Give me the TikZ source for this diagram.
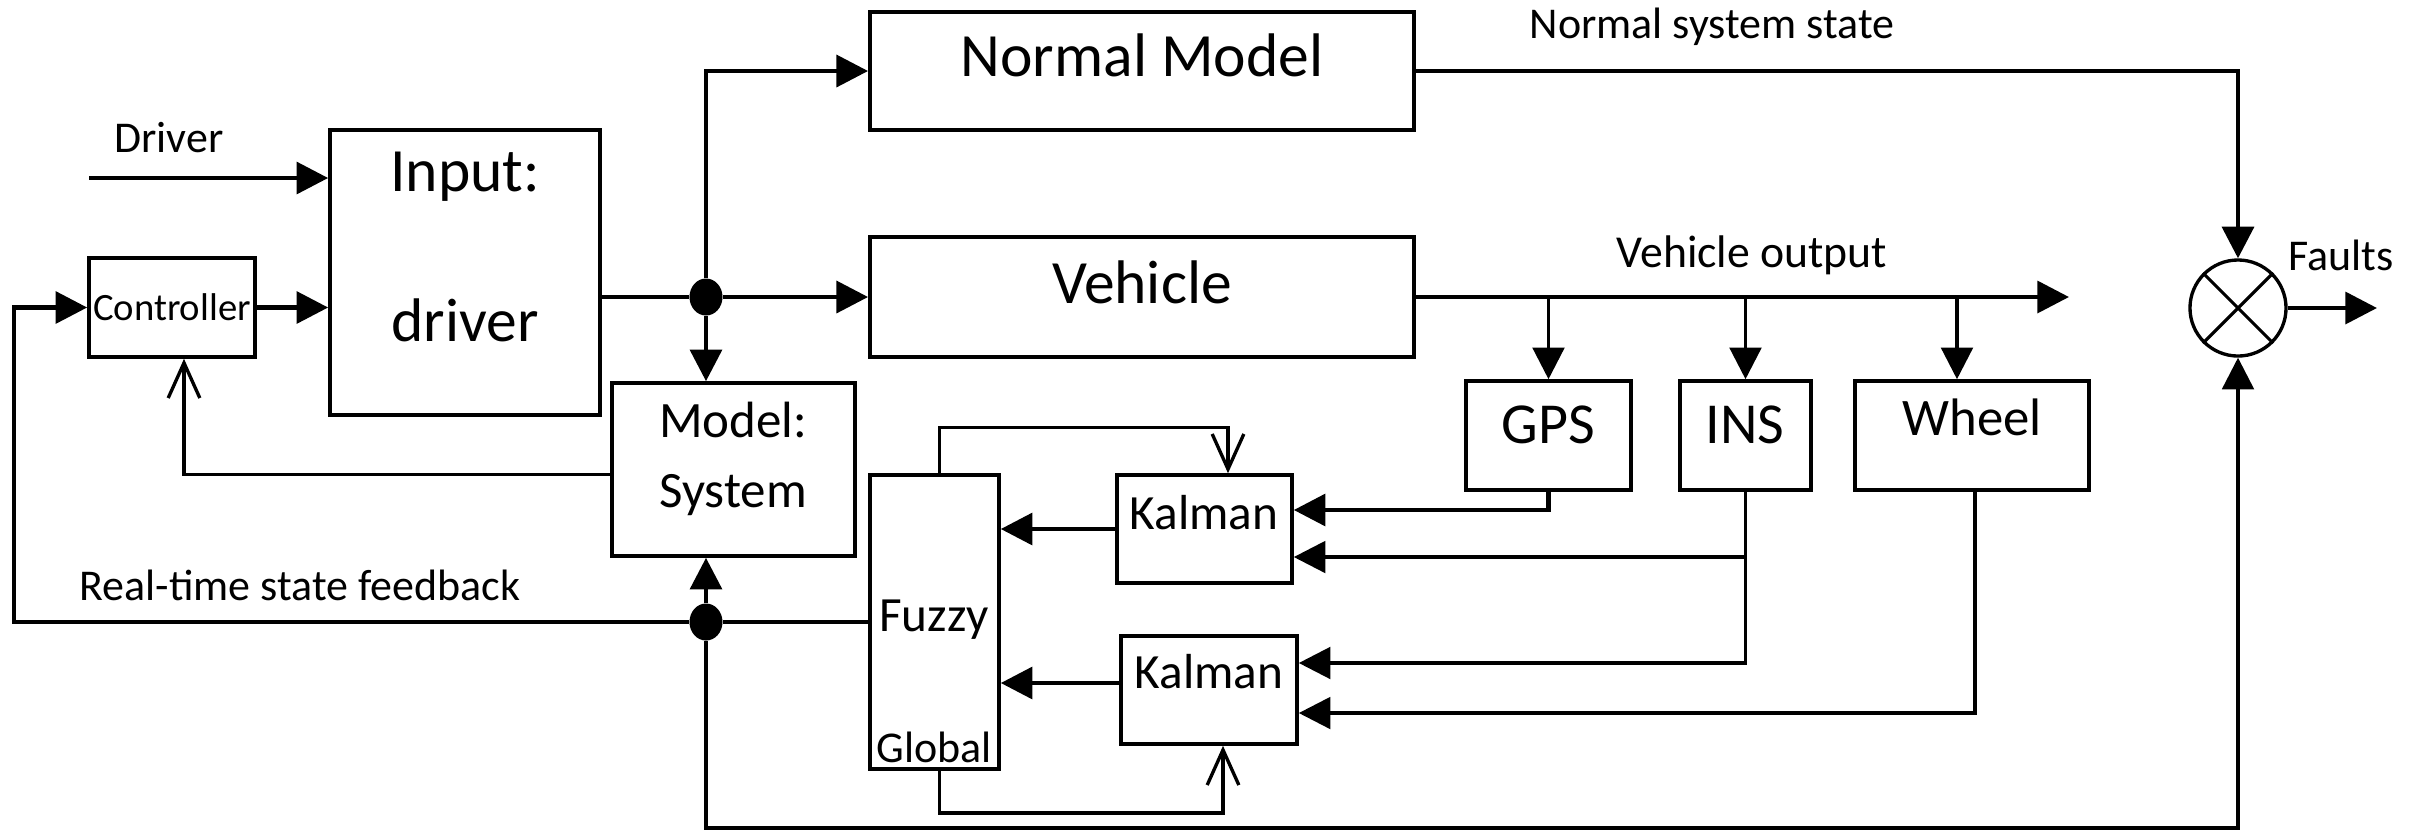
\documentclass[tikz,border=0pt]{standalone}
\usepackage{fontspec}
\setmainfont{Carlito}
\usetikzlibrary{arrows.meta,shapes.geometric}

\newcommand{\txtsize}[1]{\fontsize{#1}{#1}\selectfont}

\begin{document}
\begin{tikzpicture}
      [x=0.01cm, y=-0.01cm,
       box/.style={
           rectangle,
           draw=black, line width=1pt,
           inner sep=0pt
         },
       junction/.style={ellipse, fill=black, inner sep=0pt,
           minimum width=0.33cm, minimum height=0.37cm},
       flow/.style={line width=1.3pt, -{Triangle[length=9pt,width=9pt]}},
       thinflow/.style={line width=0.95pt, -{Triangle[length=9pt,width=9pt]}},
       openflow/.style={line width=0.95pt, -{Straight Barb[length=10pt,width=9pt]}},
       wire/.style={line width=1.3pt},
       lbl/.style={font={\txtsize{12.5}}},
       ]
    \useasboundingbox (0,0) rectangle (2420,832);

    % blocks
    \node [box, minimum width=2.70cm, minimum height=2.85cm] (input) at (465,272.5) {};
    \node [font={\txtsize{17.5}}] (inputtop) at (465,177) {Input:};
    \node [font={\txtsize{17.5}}] (inputbot) at (465,320) {driver};

    \node [box, minimum width=1.66cm, minimum height=0.99cm, font={\txtsize{11}}] (ctrl) at (172,307.5) {Controller};

    \node [box, minimum width=2.43cm, minimum height=1.73cm] (model) at (733.5,469.5) {};
    \node [font={\txtsize{14.5}}] (modeltop) at (733,420) {Model:};
    \node [font={\txtsize{14.5}}] (modelbot) at (733,495) {System};

    \node [box, minimum width=5.44cm, minimum height=1.18cm] (normal) at (1142,71) {};
    \node [font={\txtsize{17.5}}] (normaltxt) at (1142,55) {Normal Model};

    \node [box, minimum width=5.44cm, minimum height=1.20cm] (vehicle) at (1142,297) {};
    \node [font={\txtsize{17.5}}] (vehicletxt) at (1142,282) {Vehicle};

    \node [box, minimum width=1.65cm, minimum height=1.09cm] (gps) at (1548.5,435.5) {};
    \node [font={\txtsize{16.5}}] (gpstxt) at (1548,425) {GPS};
    \node [box, minimum width=1.31cm, minimum height=1.09cm] (ins) at (1745.5,435.5) {};
    \node [font={\txtsize{16.5}}] (instxt) at (1745,425) {INS};
    \node [box, minimum width=2.34cm, minimum height=1.09cm] (wheel) at (1972,435.5) {};
    \node [font={\txtsize{15}}] (wheeltxt) at (1972,417) {Wheel};

    \node [box, minimum width=1.29cm, minimum height=2.94cm] (fuzzy) at (934.5,622) {};
    \node [font={\txtsize{14}}] (fuzzytxt) at (934,620) {Fuzzy};
    \node [font={\txtsize{12.5}}] (globaltxt) at (934,747) {Global};

    \node [box, minimum width=1.75cm, minimum height=1.08cm] (kal1) at (1204.5,529) {};
    \node [font={\txtsize{14}}] (kal1txt) at (1204,513) {Kalman};
    \node [box, minimum width=1.76cm, minimum height=1.08cm] (kal2) at (1209,690) {};
    \node [font={\txtsize{14}}] (kal2txt) at (1209,672) {Kalman};

    \node [draw, circle, line width=0.95pt, inner sep=0pt, minimum size=0.96cm] (sum) at (2238,308) {};
    \draw [line width=0.9pt] (sum.north west) -- (sum.south east) (sum.north east) -- (sum.south west);

    \node [junction] (j1) at (706,297) {};
    \node [junction] (j2) at (706,622) {};

    \coordinate (drv) at (89,178);
    \coordinate (lft) at (14,622);
    \coordinate (bot) at (706,828);
    \coordinate (vout) at (2069,297);
    \coordinate (faultsend) at (2377,308);

    % labels
    \node [lbl] (drvlbl) at (169,138) {Driver};
    \node [lbl] (nsslbl) at (1712,27) {Normal system state};
    \node [font={\txtsize{13}}] (voutlbl) at (1752,255) {Vehicle output};
    \node [lbl] (faultslbl) at (2341,255) {Faults};
    \node [lbl] (rtlbl) at (300,585) {Real-time state feedback};

    % forward path
    \draw [flow] (drv) -- (drv -| input.west);
    \draw [flow] (ctrl.east) -- (ctrl.east -| input.west);
    \draw [wire] (input.east |- j1) -- (j1);
    \draw [flow] (j1) -- (vehicle.west);
    \draw [flow] (j1) |- (normal.west);
    \draw [flow] (j1) -- (j1 |- model.north);
    \draw [flow] (normal.east) -| (sum.north);
    \draw [flow] (vehicle.east) -- (vout);
    \draw [flow] (sum.east) -- (faultsend);

    % sensors
    \draw [thinflow] (gps.north |- vehicle.east) -- (gps.north);
    \draw [thinflow] (ins.north |- vehicle.east) -- (ins.north);
    \draw [thinflow] ([xshift=-0.15cm]wheel.north |- vehicle.east) -- ([xshift=-0.15cm]wheel.north);
    \draw [flow] (gps.south) |- ([yshift=0.19cm]kal1.east);
    \draw [thinflow] (ins.south) |- ([yshift=-0.28cm]kal1.east);
    \draw [thinflow] (ins.south) |- ([yshift=0.27cm]kal2.east);
    \draw [thinflow] ([xshift=0.03cm]wheel.south) |- ([yshift=-0.23cm]kal2.east);

    % fusion
    \draw [flow] (kal1.west) -- (kal1.west -| fuzzy.east);
    \draw [flow] ([yshift=0.07cm]kal2.west) -- ([yshift=0.07cm]kal2.west -| fuzzy.east);
    \draw [openflow] ([xshift=0.05cm]fuzzy.north) -- ++(0,-46) -| ([xshift=0.235cm]kal1.north);
    \draw [openflow] ([xshift=0.05cm]fuzzy.south) -- ++(0,42) -| ([xshift=0.14cm]kal2.south);

    % feedback
    \draw [wire] (fuzzy.west) -- (j2);
    \draw [flow] (j2) -- (lft) |- (ctrl.west);
    \draw [flow] (j2) -- (j2 |- model.south);
    \draw [thinflow] (j2) -- (bot) -| (sum.south);
    \draw [openflow] ([yshift=-0.05cm]model.west) -| ([xshift=0.12cm]ctrl.south);

  \end{tikzpicture}
\end{document}
